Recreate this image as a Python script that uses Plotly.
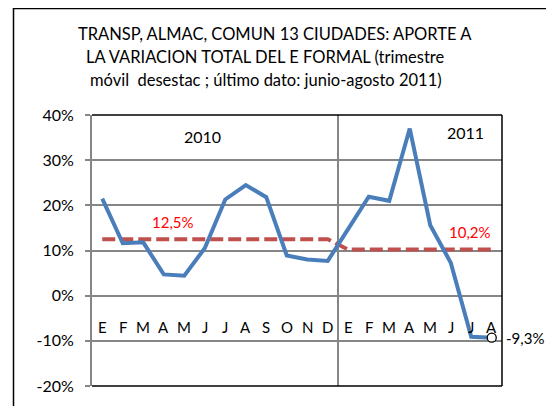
import plotly.graph_objects as go

months = ["E", "F", "M", "A", "M", "J", "J", "A", "S", "O", "N", "D",
          "E", "F", "M", "A", "M", "J", "J", "A"]
aporte = [21.5, 11.6, 11.8, 4.7, 4.4, 10.5, 21.3, 24.5, 21.8, 8.9, 8.0, 7.7,
          14.8, 21.9, 21.0, 37.0, 15.6, 7.3, -9.1, -9.3]
promedio = [12.5] * 12 + [10.2] * 8
year_labels = ["2010", "2011"]
y_ticks = [-20, -10, 0, 10, 20, 30, 40]
title_lines = ["TRANSP, ALMAC, COMUN 13 CIUDADES: APORTE A",
               "LA VARIACION TOTAL DEL E FORMAL (trimestre",
               "móvil  desestac ; último dato: junio-agosto 2011)"]

FONT = "Lato"
x = list(range(len(months)))

# figure-local geometry (page body adds an 8px offset)
L, T, W, H = 84, 107, 546, 398
PW, PH = 410, 271


def px_x(ax):
    return (ax - 8 - L) / PW


def px_y(ay):
    return (T + PH - (ay - 8)) / PH


fig = go.Figure()
fig.add_trace(go.Scatter(x=x, y=promedio, mode="lines",
                         line=dict(color="#C0504D", width=4, dash="13px,5px"),
                         hoverinfo="skip"))
fig.add_trace(go.Scatter(x=x, y=aporte, mode="lines",
                         line=dict(color="#4A7EBB", width=4),
                         hoverinfo="skip"))
fig.add_trace(go.Scatter(x=[x[-1]], y=[aporte[-1]], mode="markers",
                         marker=dict(color="white", size=9, symbol="circle",
                                     line=dict(color="black", width=1.3)),
                         hoverinfo="skip"))

ann = []
for i, m in enumerate(months):
    ann.append(dict(x=i, y=-6.9, xref="x", yref="y", text=m, showarrow=False,
                    font=dict(family=FONT, size=15, color="black")))
ann.append(dict(x=4.9, y=35.2, xref="x", yref="y", text=year_labels[0], showarrow=False,
                font=dict(family=FONT, size=16, color="black")))
ann.append(dict(x=17.7, y=36.1, xref="x", yref="y", text=year_labels[1], showarrow=False,
                font=dict(family=FONT, size=16, color="black")))
ann.append(dict(x=3.45, y=16.4, xref="x", yref="y", text="12,5%", showarrow=False,
                font=dict(family=FONT, size=15, color="#FF0000")))
ann.append(dict(x=17.95, y=14.2, xref="x", yref="y", text="10,2%", showarrow=False,
                font=dict(family=FONT, size=15, color="#FF0000")))
ann.append(dict(x=1.0, y=aporte[-1], xref="paper", yref="y", text="-9,3%", showarrow=False,
                xanchor="left", xshift=2, font=dict(family=FONT, size=15, color="black")))
for line, cx, cy in zip(title_lines, [275, 265, 266], [34, 57, 80]):
    ann.append(dict(x=px_x(cx), y=px_y(cy), xref="paper", yref="paper", text=line,
                    showarrow=False, xanchor="center", yanchor="middle",
                    font=dict(family=FONT, size=16.5, color="black")))

shapes = [
    dict(type="line", xref="x", yref="y", x0=11.5, x1=11.5, y0=-20, y1=40,
         line=dict(color="#868686", width=2), layer="below"),
    dict(type="line", xref="paper", yref="paper", x0=0, x1=1, y0=1, y1=1,
         line=dict(color="black", width=1.5)),
    dict(type="line", xref="paper", yref="paper", x0=1, x1=1, y0=0, y1=1,
         line=dict(color="black", width=1.5)),
    dict(type="line", xref="paper", yref="paper", x0=0, x1=1, y0=0, y1=0,
         line=dict(color="black", width=1.5)),
    dict(type="rect", xref="paper", yref="paper",
         x0=px_x(13.5), x1=1.3, y0=-0.3, y1=px_y(8.5),
         line=dict(color="black", width=1.5)),
]

fig.update_layout(
    width=W, height=H,
    margin=dict(l=L, r=W - L - PW, t=T, b=H - T - PH),
    paper_bgcolor="white", plot_bgcolor="white",
    showlegend=False,
    annotations=ann, shapes=shapes,
    xaxis=dict(range=[-0.5, 19.5], showgrid=False, showticklabels=False,
               zeroline=False, showline=False, fixedrange=True),
    yaxis=dict(range=[-20, 40], tickvals=y_ticks,
               ticktext=[f"{v}%" for v in y_ticks],
               showgrid=True, gridcolor="#868686", gridwidth=1.5,
               zeroline=False, showline=True, linecolor="#868686", linewidth=2,
               ticks="outside", ticklen=5, tickcolor="#868686", tickwidth=1.5,
               ticklabelstandoff=8,
               tickfont=dict(family=FONT, size=16, color="black"),
               fixedrange=True),
)
fig.write_html("out.html")
